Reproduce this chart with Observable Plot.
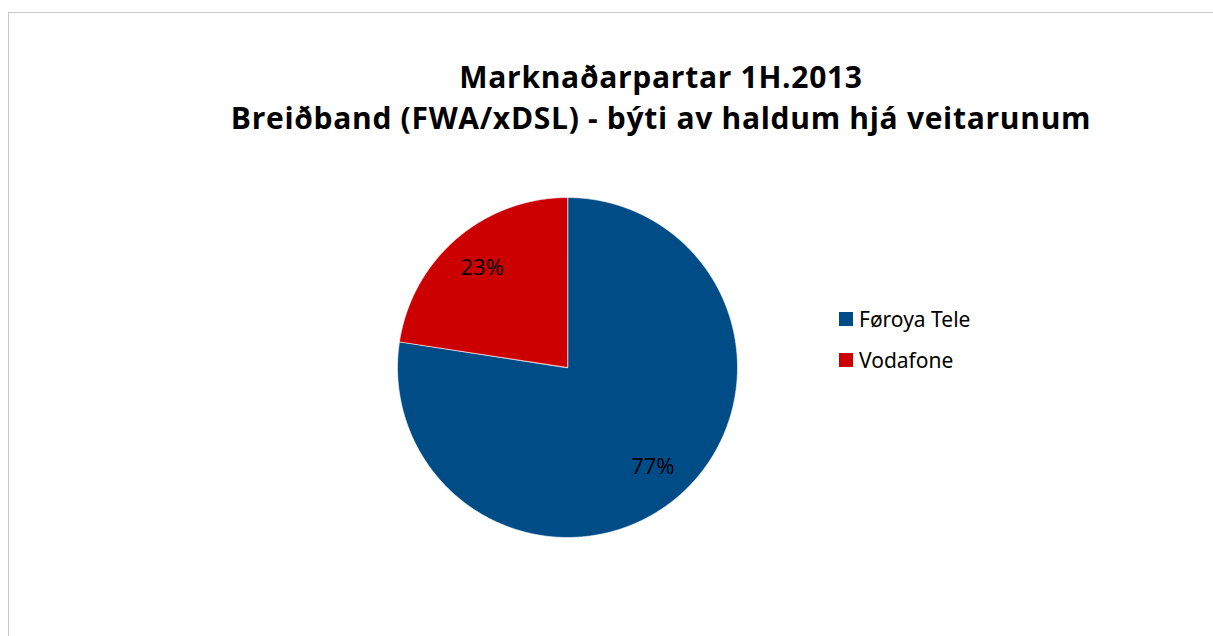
<!DOCTYPE html>
<html>
<head>
<meta charset="utf-8">
<script src="https://cdn.jsdelivr.net/npm/d3@7"></script>
<script src="https://cdn.jsdelivr.net/npm/@observablehq/plot@0.6"></script>
<style>
  html, body { margin: 0; padding: 0; background: #fff; }
  #wrap { position: relative; width: 1213px; height: 636px; overflow: hidden; font-family: "Open Sans", sans-serif; }
  #frame { position: absolute; left: 8px; top: 12px; width: 1300px; height: 700px; border: 1px solid #c8c8c8; box-sizing: border-box; }
  .title { position: absolute; left: 161px; width: 1000px; text-align: center; font-weight: bold; font-size: 30px; letter-spacing: 0.7px; color: #000; white-space: nowrap; line-height: 1; }
  #pie { position: absolute; left: 367px; top: 167px; }
  #legend { position: absolute; left: 839px; top: 306px; }
  .lg-swatch { font-size: 21px; color: #000; display: flex; align-items: center; margin: 0 0 14px 0 !important; line-height: 26px; }
  .lg-swatch svg { margin-right: 6px !important; }
</style>
</head>
<body>
<div id="wrap">
  <div id="frame"></div>
  <div class="title" id="t1" style="top:62px">Marknaðarpartar 1H.2013</div>
  <div class="title" id="t2" style="top:103px">Breiðband (FWA/xDSL) - býti av haldum hjá veitarunum</div>
  <div id="pie"></div>
  <div id="legend"></div>
</div>
<script>
const categories = ["Føroya Tele", "Vodafone"];
const shares = [77.4, 22.6];
const labels = ["77%", "23%"];
const colors = ["#004C87", "#CC0000"];

const pie = d3.pie().sort(null).value(d => d.value)(
  categories.map((c, i) => ({ name: c, value: shares[i], label: labels[i] }))
);

// polygon vertices for each slice (unit circle, angle 0 at top, clockwise)
const pts = [];
for (const p of pie) {
  const n = Math.max(2, Math.ceil((p.endAngle - p.startAngle) / (Math.PI / 360)));
  pts.push({ name: p.data.name, x: 0, y: 0 });
  for (let k = 0; k <= n; k++) {
    const a = p.startAngle + (p.endAngle - p.startAngle) * k / n;
    pts.push({ name: p.data.name, x: Math.sin(a), y: Math.cos(a) });
  }
}
const lab = pie.map(p => {
  const m = (p.startAngle + p.endAngle) / 2;
  return { label: p.data.label, x: 0.77 * Math.sin(m), y: 0.77 * Math.cos(m) };
});

const R = 170, S = 400, ext = (S / 2) / R;
const chart = Plot.plot({
  width: S, height: S, margin: 0,
  x: { domain: [-ext, ext], axis: null },
  y: { domain: [-ext, ext], axis: null },
  color: { domain: categories, range: colors },
  marks: [
    Plot.line(pts, { x: "x", y: "y", z: "name", fill: "name", stroke: "white", strokeWidth: 0.8, strokeOpacity: 0.8, curve: "linear-closed" }),
    Plot.text(lab, { x: "x", y: "y", text: "label", fontSize: 22, fill: "black", fontFamily: "Open Sans" })
  ]
});
document.getElementById("pie").appendChild(chart);

const lg = Plot.legend({
  color: { domain: categories, range: colors },
  legend: "swatches", columns: 1, swatchSize: 14, className: "lg"
});
document.getElementById("legend").appendChild(lg);
</script>
</body>
</html>
